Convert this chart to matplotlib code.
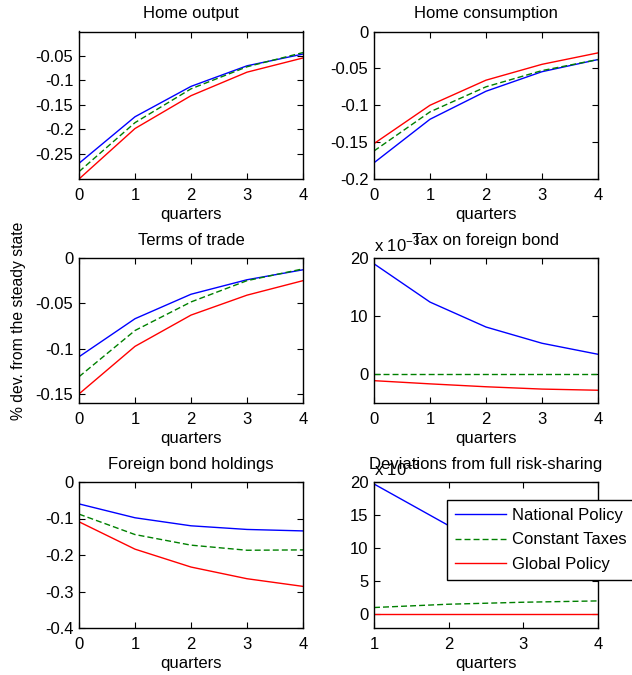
import numpy as np
import matplotlib
matplotlib.use('Agg')
import matplotlib.pyplot as plt
from matplotlib.ticker import FormatStrFormatter

plt.rcParams['font.family'] = ['Liberation Sans', 'DejaVu Sans']
plt.rcParams['font.size'] = 12
plt.rcParams['mathtext.default'] = 'regular'

quarters = [0, 1, 2, 3, 4]
quarters_dev = [1, 2, 3, 4]
series_names = ['National Policy', 'Constant Taxes', 'Global Policy']

# Home output
output_national = [-0.270, -0.175, -0.113, -0.071, -0.047]
output_constant = [-0.287, -0.187, -0.118, -0.073, -0.044]
output_global = [-0.302, -0.199, -0.132, -0.084, -0.055]

# Home consumption
cons_national = [-0.178, -0.119, -0.081, -0.0545, -0.038]
cons_constant = [-0.162, -0.109, -0.075, -0.053, -0.038]
cons_global = [-0.152, -0.100, -0.066, -0.0445, -0.029]

# Terms of trade
tot_national = [-0.109, -0.067, -0.040, -0.024, -0.013]
tot_constant = [-0.131, -0.080, -0.0485, -0.025, -0.012]
tot_global = [-0.150, -0.0975, -0.063, -0.041, -0.025]

# Tax on foreign bond (x 10^-3)
tax_national = [19.0, 12.4, 8.1, 5.3, 3.4]
tax_constant = [0.0, 0.0, 0.0, 0.0, 0.0]
tax_global = [-1.15, -1.7, -2.2, -2.6, -2.8]

# Foreign bond holdings
bond_national = [-0.060, -0.098, -0.120, -0.130, -0.134]
bond_constant = [-0.088, -0.144, -0.173, -0.187, -0.186]
bond_global = [-0.109, -0.184, -0.233, -0.265, -0.286]

# Deviations from full risk-sharing (x 10^-3)
dev_national = [19.7, 13.4, 9.2, 6.3]
dev_constant = [1.0, 1.5, 1.8, 2.0]
dev_global = [0.0, 0.0, 0.0, 0.0]

line_styles = [dict(color='blue', ls='-'),
               dict(color=(0, 0.5, 0), ls=(0, (4.3, 2.2))),
               dict(color='red', ls='-')]

W, H = 632, 675
fig = plt.figure(figsize=(W / 100, H / 100), dpi=100)


def f_make_axes(left, top, right, bottom):
    return fig.add_axes([left / W, 1 - bottom / H, (right - left) / W, (bottom - top) / H])


def f_plot_panel(ax, x, series, title, ylim, yticks, xticks, scaled=False):
    for y, st, name in zip(series, line_styles, series_names):
        ax.plot(x, y, lw=1.0, label=name, **st)
    ax.set_xlim(x[0], x[-1])
    ax.set_ylim(ylim)
    ax.set_xticks(xticks)
    ax.set_yticks(yticks)
    ax.yaxis.set_major_formatter(FormatStrFormatter('%g'))
    ax.tick_params(direction='in', top=True, right=True, length=4, labelsize=12, pad=4)
    ax.tick_params(axis='x', pad=6.5)
    ax.set_xlabel('quarters', fontsize=12, labelpad=3)
    ax.set_title(title, fontsize=12, pad=9.5)
    for sp in ax.spines.values():
        sp.set_linewidth(1.0)
    if scaled:
        ax.text(0.0, 1.025, r'x 10$^{-3}$', transform=ax.transAxes, fontsize=12,
                ha='left', va='bottom')


lx0, lx1 = 79, 303
rx0, rx1 = 374, 598
rows = [(31.5, 179), (258, 403), (482, 628)]

ax1 = f_make_axes(lx0, rows[0][0], lx1, rows[0][1])
f_plot_panel(ax1, quarters, [output_national, output_constant, output_global], 'Home output',
             (-0.302, -0.001), [-0.25, -0.2, -0.15, -0.1, -0.05], quarters)

ax2 = f_make_axes(rx0, rows[0][0], rx1, rows[0][1])
f_plot_panel(ax2, quarters, [cons_national, cons_constant, cons_global], 'Home consumption',
             (-0.2, 0), [-0.2, -0.15, -0.1, -0.05, 0], quarters)

ax3 = f_make_axes(lx0, rows[1][0], lx1, rows[1][1])
f_plot_panel(ax3, quarters, [tot_national, tot_constant, tot_global], 'Terms of trade',
             (-0.16, 0), [-0.15, -0.1, -0.05, 0], quarters)

ax4 = f_make_axes(rx0, rows[1][0], rx1, rows[1][1])
f_plot_panel(ax4, quarters, [tax_national, tax_constant, tax_global], 'Tax on foreign bond',
             (-5, 20), [0, 10, 20], quarters, scaled=True)

ax5 = f_make_axes(lx0, rows[2][0], lx1, rows[2][1])
f_plot_panel(ax5, quarters, [bond_national, bond_constant, bond_global], 'Foreign bond holdings',
             (-0.4, 0), [-0.4, -0.3, -0.2, -0.1, 0], quarters)

ax6 = f_make_axes(rx0, rows[2][0], rx1, rows[2][1])
f_plot_panel(ax6, quarters_dev, [dev_national, dev_constant, dev_global],
             'Deviations from full risk-sharing', (-2.1, 20), [0, 5, 10, 15, 20], quarters_dev,
             scaled=True)

leg = ax6.legend(loc='upper left', bbox_to_anchor=(447 / W, 1 - 500 / H),
                 bbox_transform=fig.transFigure, fontsize=12, frameon=True, fancybox=False,
                 handlelength=3.05, handletextpad=0.35, labelspacing=0.55, borderpad=0.5,
                 borderaxespad=0)
leg.get_frame().set_edgecolor('black')
leg.get_frame().set_linewidth(1.0)
leg.get_frame().set_alpha(1.0)

fig.text(19 / W, 1 - 321 / H, '% dev. from the steady state', rotation=90, fontsize=11.3,
         ha='center', va='center')

fig.savefig('out.png', dpi=100)
